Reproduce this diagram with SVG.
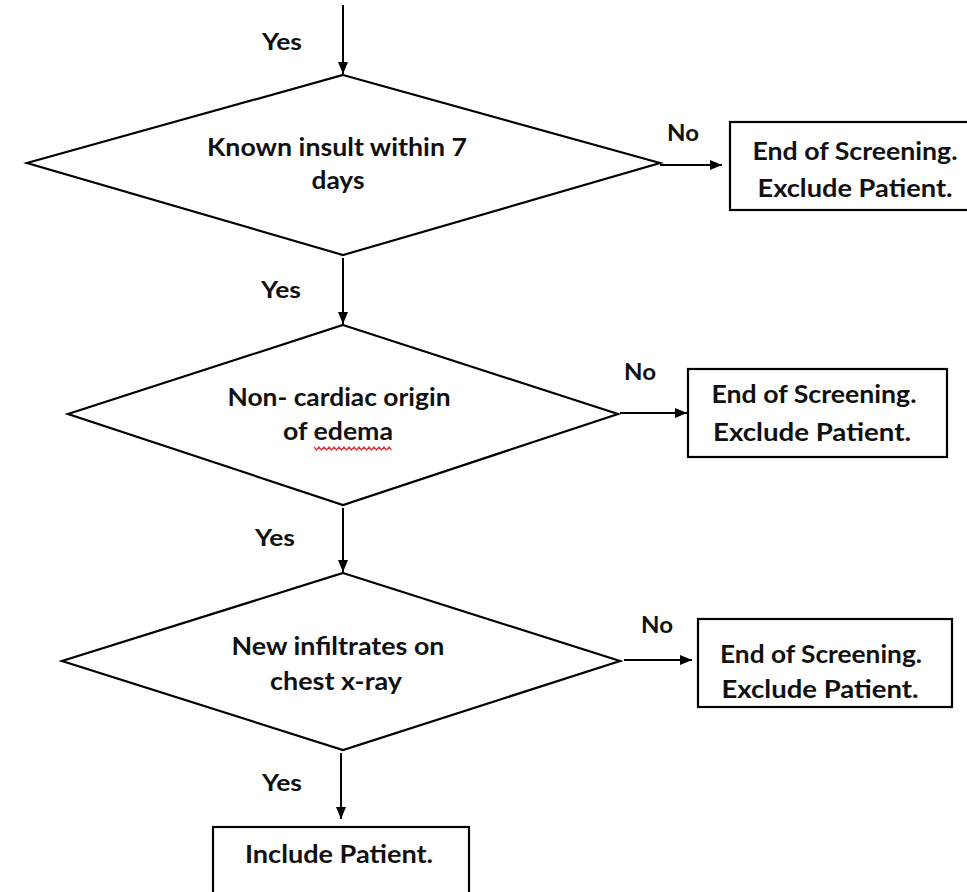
<svg xmlns="http://www.w3.org/2000/svg" width="967" height="892" viewBox="0 0 967 892">
<style>
.shape{fill:#fff;stroke:#000;stroke-width:2.2}
.conn{stroke:#000;stroke-width:2;fill:none}
text{font-family:Lato,"Open Sans","Liberation Sans",sans-serif;font-weight:bold;font-size:24px;fill:#111;text-anchor:middle}
.lbl{font-size:23px}
</style>
<defs>
<marker id="ah" viewBox="0 0 12 10" refX="12" refY="5" markerWidth="6" markerHeight="5" markerUnits="strokeWidth" orient="auto">
<path d="M0,0 L12,5 L0,10 z" fill="#000"/>
</marker>
</defs>
<rect width="967" height="892" fill="#fff"/>
<g id="connectors">
<line class="conn" x1="343" y1="5" x2="343" y2="74" marker-end="url(#ah)"/>
<line class="conn" x1="343" y1="258" x2="343" y2="324" marker-end="url(#ah)"/>
<line class="conn" x1="343" y1="508" x2="343" y2="572" marker-end="url(#ah)"/>
<line class="conn" x1="341" y1="753" x2="341" y2="819" marker-end="url(#ah)"/>
<line class="conn" x1="660" y1="165" x2="722" y2="165" marker-end="url(#ah)"/>
<line class="conn" x1="620" y1="413" x2="687" y2="413" marker-end="url(#ah)"/>
<line class="conn" x1="624" y1="660" x2="692" y2="660" marker-end="url(#ah)"/>
<text class="lbl" x="282" y="50" textLength="40" lengthAdjust="spacingAndGlyphs">Yes</text>
<text class="lbl" x="281" y="298" textLength="40" lengthAdjust="spacingAndGlyphs">Yes</text>
<text class="lbl" x="275" y="546" textLength="40" lengthAdjust="spacingAndGlyphs">Yes</text>
<text class="lbl" x="282" y="791" textLength="40" lengthAdjust="spacingAndGlyphs">Yes</text>
<text class="lbl" x="683" y="141" textLength="32" lengthAdjust="spacingAndGlyphs">No</text>
<text class="lbl" x="640" y="380" textLength="32" lengthAdjust="spacingAndGlyphs">No</text>
<text class="lbl" x="657" y="633" textLength="32" lengthAdjust="spacingAndGlyphs">No</text>
</g>
<g id="d1">
<polygon class="shape" points="343,75 660,163 343,255 27,163"/>
<text x="337" y="156" textLength="260" lengthAdjust="spacingAndGlyphs">Known insult within 7</text>
<text x="338" y="189" textLength="53" lengthAdjust="spacingAndGlyphs">days</text>
</g>
<g id="b1">
<rect class="shape" x="730" y="122" width="240" height="88"/>
<text x="855" y="160" textLength="205" lengthAdjust="spacingAndGlyphs">End of Screening.</text>
<text x="855" y="197" textLength="195" lengthAdjust="spacingAndGlyphs">Exclude Patient.</text>
</g>
<g id="d2">
<polygon class="shape" points="343,325 618,414 343,505 68,414"/>
<text x="339" y="406" textLength="223" lengthAdjust="spacingAndGlyphs">Non- cardiac origin</text>
<text x="338" y="440" textLength="110" lengthAdjust="spacingAndGlyphs">of edema</text>
<path d="M314,447 l2.5,3 l2.5,-3 l2.5,3 l2.5,-3 l2.5,3 l2.5,-3 l2.5,3 l2.5,-3 l2.5,3 l2.5,-3 l2.5,3 l2.5,-3 l2.5,3 l2.5,-3 l2.5,3 l2.5,-3 l2.5,3 l2.5,-3 l2.5,3 l2.5,-3 l2.5,3 l2.5,-3 l2.5,3 l2.5,-3 l2.5,3 l2.5,-3 l2.5,3 l2.5,-3 l2.5,3 l2.5,-3 l2.5,3" fill="none" stroke="#e03030" stroke-width="1.2"/>
</g>
<g id="b2">
<rect class="shape" x="688" y="369" width="259" height="88"/>
<text x="814" y="403" textLength="205" lengthAdjust="spacingAndGlyphs">End of Screening.</text>
<text x="812" y="441" textLength="198" lengthAdjust="spacingAndGlyphs">Exclude Patient.</text>
</g>
<g id="d3">
<polygon class="shape" points="343,573 620,661 343,750 62,661"/>
<text x="338" y="655" textLength="213" lengthAdjust="spacingAndGlyphs">New infiltrates on</text>
<text x="336" y="690" textLength="132" lengthAdjust="spacingAndGlyphs">chest x-ray</text>
</g>
<g id="b3">
<rect class="shape" x="698" y="619" width="254" height="88"/>
<text x="821" y="663" textLength="202" lengthAdjust="spacingAndGlyphs">End of Screening.</text>
<text x="820" y="698" textLength="197" lengthAdjust="spacingAndGlyphs">Exclude Patient.</text>
</g>
<g id="b4">
<rect class="shape" x="213" y="827" width="256" height="80"/>
<text x="339" y="863" textLength="188" lengthAdjust="spacingAndGlyphs">Include Patient.</text>
</g>
</svg>
